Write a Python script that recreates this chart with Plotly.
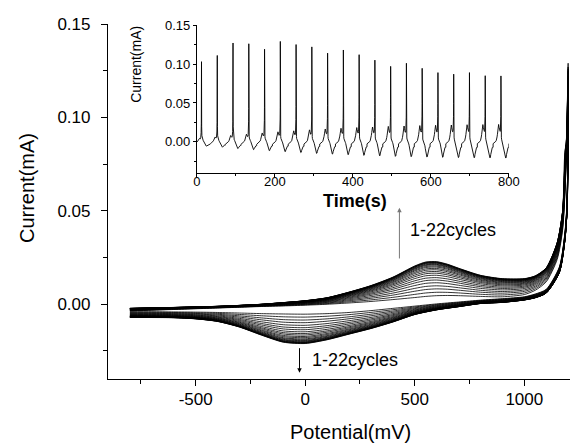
import plotly.graph_objects as go

# ---------------- data ----------------
cycles = list(range(1, 23))

# forward (anodic) scan, -800 -> 1200 mV
E_fwd = [-800, -700, -600, -500, -400, -300, -200, -100, 0, 100, 200, 300, 400,
         500, 550, 600, 650, 700, 800, 900, 1000, 1050, 1100, 1150, 1175, 1190]
I_fwd_first = [-0.0036, -0.0032, -0.0028, -0.0024, -0.0020, -0.0016, -0.0012, -0.0009,
               -0.0005, 0.0000, 0.0007, 0.0015, 0.0025, 0.0036, 0.0042, 0.0046, 0.0047,
               0.0046, 0.0042, 0.0040, 0.0052, 0.0075, 0.0120, 0.0240, 0.0400, 0.0720]
I_fwd_last = [-0.0022, -0.0019, -0.0017, -0.0014, -0.0011, -0.0006, 0.0000, 0.0009,
              0.0019, 0.0035, 0.0065, 0.0100, 0.0145, 0.0205, 0.0226, 0.0228, 0.0214,
              0.0193, 0.0155, 0.0137, 0.0137, 0.0152, 0.0195, 0.0330, 0.0500, 0.0850]

# reverse (cathodic) scan, 1200 -> -800 mV
E_rev = [1195, 1185, 1160, 1100, 1050, 1000, 900, 800, 700, 600, 500, 400, 300, 200,
         100, 0, -100, -200, -300, -400, -500, -600, -700, -800]
I_rev_first = [0.055, 0.038, 0.020, 0.0080, 0.0055, 0.0040, 0.0030, 0.0022, 0.0012,
               0.0002, -0.0010, -0.0022, -0.0034, -0.0044, -0.0050, -0.0053, -0.0052,
               -0.0050, -0.0047, -0.0044, -0.0042, -0.0041, -0.0040, -0.0040]
I_rev_last = [0.050, 0.034, 0.017, 0.0060, 0.0035, 0.0023, 0.0010, 0.0004, -0.0013,
              -0.0030, -0.0055, -0.0095, -0.0130, -0.0160, -0.0190, -0.0210, -0.0203,
              -0.0165, -0.0122, -0.0092, -0.0078, -0.0072, -0.0071, -0.0070]

# current at the 1200 mV turning point, per cycle (inset spikes)
peak_current = [0.103, 0.111, 0.127, 0.126, 0.119, 0.129, 0.125, 0.122, 0.114, 0.118,
                0.112, 0.105, 0.097, 0.101, 0.0945, 0.089, 0.087, 0.089, 0.085, 0.080,
                0.079, 0.078]

# how far each cycle has grown from the first toward the last cycle
cycle_growth = [0.00, 0.10, 0.20, 0.29, 0.38, 0.46, 0.53, 0.60, 0.66, 0.71, 0.76,
                0.80, 0.84, 0.87, 0.90, 0.92, 0.94, 0.96, 0.97, 0.98, 0.99, 1.00]

E_low, E_high = -800, 1200
scan_rate = 99.0          # mV/s
first_turn_time = 12.0    # s, time of first 1200 mV turn in inset
t_max = 800

x_ticks = [-500, 0, 500, 1000]
x_tick_text = ["-500", "0", "500", "1000"]
y_ticks = [0.00, 0.05, 0.10, 0.15]
inset_x_ticks = [0, 200, 400, 600, 800]

FONT = "Liberation Sans, Arial, sans-serif"

fig = go.Figure()

half = (E_high - E_low) / scan_rate
inset_t, inset_i = [], []
for k, c in enumerate(cycles):
    w = cycle_growth[k]
    fwd_e = E_fwd + [E_high]
    fwd_i = [a + w * (b - a) for a, b in zip(I_fwd_first, I_fwd_last)] + [peak_current[k]]
    rev_e = [E_high] + E_rev
    rev_i = [peak_current[k]] + [a + w * (b - a) for a, b in zip(I_rev_first, I_rev_last)]
    for xs, ys in ((fwd_e, fwd_i), (rev_e, rev_i)):
        fig.add_trace(go.Scatter(
            x=xs, y=ys, mode="lines",
            line=dict(color="black", width=0.8, shape="spline", smoothing=0.7),
            showlegend=False, hoverinfo="skip", xaxis="x", yaxis="y"))
    t_start = first_turn_time - half + k * 2 * half
    for e, i in zip(fwd_e, fwd_i):
        t = t_start + (e - E_low) / scan_rate
        if 0 <= t <= t_max:
            inset_t.append(t); inset_i.append(i)
    for e, i in zip(rev_e, rev_i):
        t = t_start + half + (E_high - e) / scan_rate
        if 0 <= t <= t_max:
            inset_t.append(t); inset_i.append(i)

fig.add_trace(go.Scatter(
    x=inset_t, y=inset_i, mode="lines",
    line=dict(color="black", width=0.9),
    showlegend=False, hoverinfo="skip", xaxis="x2", yaxis="y2"))

axis_common = dict(showline=True, linecolor="black", showgrid=False, zeroline=False,
                   ticks="outside", tickcolor="black", automargin=False)

fig.update_layout(
    width=570, height=436,
    margin=dict(l=100, r=0, t=16, b=65),
    paper_bgcolor="white", plot_bgcolor="white",
    font=dict(family=FONT, color="black"),
    xaxis=dict(**axis_common, domain=[0, 1], range=[-900, 1245],
               tickvals=x_ticks, ticktext=x_tick_text, linewidth=1.2, tickwidth=1.2,
               ticklen=6, tickfont=dict(size=17), ticklabelstandoff=-2,
               minor=dict(dtick=250, tick0=0, ticks="outside", ticklen=4,
                          tickcolor="black", tickwidth=1.2)),
    yaxis=dict(**axis_common, domain=[0, 1], range=[-0.04, 0.15],
               tickvals=y_ticks, tickformat=".2f", linewidth=1.2, tickwidth=1.2,
               ticklen=6, tickfont=dict(size=17), ticklabelstandoff=7,
               minor=dict(dtick=0.025, tick0=0, ticks="outside", ticklen=4,
                          tickcolor="black", tickwidth=1.2)),
    xaxis2=dict(**axis_common, domain=[0.189, 0.853], anchor="y2", range=[0, 800],
                tickvals=inset_x_ticks, linewidth=1, tickwidth=1, ticklen=3,
                tickfont=dict(size=13), ticklabelstandoff=-7,
                minor=dict(dtick=100, tick0=0, ticks="outside", ticklen=2,
                           tickcolor="black", tickwidth=1)),
    yaxis2=dict(**axis_common, domain=[0.580, 0.997], anchor="x2", range=[-0.04, 0.15],
                tickvals=y_ticks, tickformat=".2f", linewidth=1, tickwidth=1, ticklen=3,
                tickfont=dict(size=13),
                minor=dict(dtick=0.025, tick0=0, ticks="outside", ticklen=2,
                           tickcolor="black", tickwidth=1)),
)

ann = []
# axis titles
ann.append(dict(text="Current(mA)", xref="paper", yref="paper", x=-0.1723, y=0.538,
                xanchor="center", yanchor="middle",
                textangle=-90, showarrow=False, font=dict(size=20)))
ann.append(dict(text="Potential(mV)", xref="paper", yref="paper", x=0.515, y=-0.149,
                xanchor="center", yanchor="middle", showarrow=False, font=dict(size=20)))
ann.append(dict(text="Current(mA)", xref="paper", yref="paper", x=0.059, y=0.887,
                xanchor="center", yanchor="middle",
                textangle=-90, showarrow=False, font=dict(size=14)))
ann.append(dict(text="<b>Time(s)</b>", xref="paper", yref="paper", x=0.5255, y=0.5014,
                xanchor="center", yanchor="middle", showarrow=False, font=dict(size=18)))
# cycle labels
ann.append(dict(text="1-22cycles", x=470, y=0.0398, xref="x", yref="y",
                xanchor="left", yanchor="middle", showarrow=False, font=dict(size=18)))
ann.append(dict(text="1-22cycles", x=23, y=-0.0299, xref="x", yref="y",
                xanchor="left", yanchor="middle", showarrow=False, font=dict(size=18)))
# arrows
ann.append(dict(x=430, y=0.0516, ax=430, ay=0.0237, xref="x", yref="y",
                axref="x", ayref="y", text="", showarrow=True, arrowhead=2,
                arrowsize=0.9, arrowwidth=1, arrowcolor="#777777"))
ann.append(dict(x=-26, y=-0.0367, ax=-26, ay=-0.0227, xref="x", yref="y",
                axref="x", ayref="y", text="", showarrow=True, arrowhead=2,
                arrowsize=0.9, arrowwidth=1, arrowcolor="black"))
fig.update_layout(annotations=ann)

fig.write_html("out.html")
